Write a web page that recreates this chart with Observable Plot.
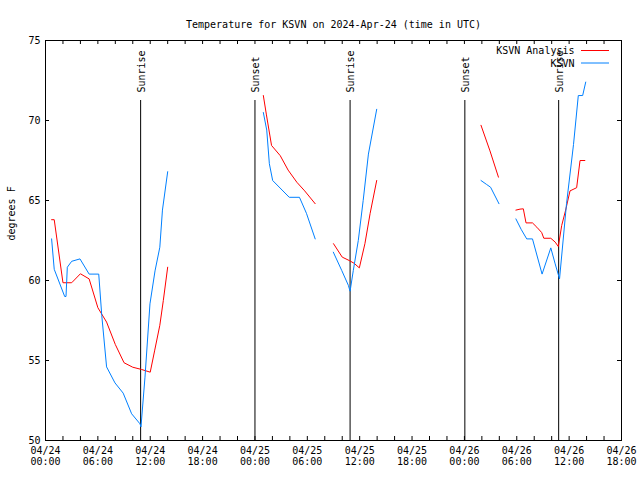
<!DOCTYPE html>
<html><head><meta charset="utf-8">
<script src="https://cdn.jsdelivr.net/npm/d3@7"></script>
<script src="https://cdn.jsdelivr.net/npm/@observablehq/plot@0.6"></script>
<style>body{margin:0;background:#fff}</style>
</head><body><div id="chart"></div>
<script>
const title = "Temperature for KSVN on 2024-Apr-24 (time in UTC)";
const yLabel = "degrees F";
const seriesNames = ["KSVN Analysis", "KSVN"];
const seriesColors = ["#ff0000", "#0080ff"];

// hours since 2024-04-24 00:00 UTC; null temperature = gap in the line
const analysisHours = [0.7,1.0,2.0,3.0,4.0,5.0,6.0,7.0,8.0,9.0,10.0,11.0,12.0,12.5,13.1,13.5,14.0, 19,
  24.96,25.3,25.9,26.9,27.8,28.8,29.7,30.9, 32,
  33.0,34.0,34.8,35.35,35.96,36.6,37.2,37.95, 44,
  49.9,50.93,51.9, 53,
  53.9,54.37,54.75,55.06,55.8,56.3,56.85,57.1,57.9,58.4,58.76,59.15,59.6,60.1,60.86,61.25,61.8];
const analysisTemps = [63.8,63.8,59.86,59.86,60.42,60.1,58.3,57.4,56.0,54.86,54.58,54.44,54.27,55.6,57.2,58.75,60.83, null,
  71.56,70.4,68.44,67.8,66.9,66.14,65.6,64.8, null,
  62.3,61.46,61.25,61.08,60.79,62.3,64.2,66.25, null,
  69.7,68.1,66.46, null,
  64.4,64.46,64.48,63.6,63.6,63.33,63.0,62.64,62.64,62.4,62.125,63.44,64.4,65.6,65.8,67.5,67.5];

const obsHours = [0.7,1.0,2.2,2.35,2.5,3.0,3.95,5.0,6.1,6.45,7.0,7.96,8.9,9.87,10.83,10.94,11.4,11.97,12.55,13.1,13.4,14.0, 19,
  24.96,25.35,25.65,26.03,27.93,29.1,29.9,30.9, 32,
  32.98,33.94,34.7,34.9,35.27,35.84,36.4,37.0,37.95, 44,
  49.9,50.55,51.0,51.96, 53,
  53.9,54.5,55.14,55.8,56.9,57.9,58.4,58.9,59.7,60.5,61.05,61.55,61.9];
const obsTemps = [62.6,60.7,59.0,59.0,60.83,61.2,61.35,60.4,60.4,57.8,54.6,53.6,52.96,51.67,51.04,50.85,53.96,58.54,60.6,62.08,64.4,66.8, null,
  70.5,69.4,67.3,66.25,65.2,65.2,64.2,62.6, null,
  61.77,60.63,59.7,59.33,60.63,62.5,65.0,67.9,70.7, null,
  66.25,66.0,65.83,64.8, null,
  63.85,63.2,62.6,62.6,60.4,62.04,61.04,60.1,64.8,68.5,71.56,71.56,72.4];

const eventHours = [10.9, 24.0, 34.9, 48.05, 58.8];
const eventLabels = ["Sunrise", "Sunset", "Sunrise", "Sunset", "Sunrise"];

const yTicks = [50, 55, 60, 65, 70, 75];
const xLabelHours = [0, 6, 12, 18, 24, 30, 36, 42, 48, 54, 60, 66];
const xMinorHours = d3.range(0, 67, 2);

const t0 = Date.UTC(2024, 3, 24);
const toDate = h => new Date(t0 + h * 3600e3);
const analysis = analysisHours.map((h, i) => ({t: toDate(h), v: analysisTemps[i]}));
const obs = obsHours.map((h, i) => ({t: toDate(h), v: obsTemps[i]}));
const events = eventHours.map((h, i) => ({t: toDate(h), label: eventLabels[i]}));

const W = 640, H = 480, mL = 45, mR = 19, mT = 40, mB = 40;
const fw = W - mL - mR, fh = H - mT - mB, tk = 4;

const legendLines = (index, scales, values, dims) => {
  const d = dims || {width: W, marginRight: mR, marginTop: mT};
  const g = d3.create("svg:g");
  seriesColors.forEach((c, i) => {
    g.append("line")
      .attr("x1", d.width - d.marginRight - 40).attr("x2", d.width - d.marginRight - 12)
      .attr("y1", d.marginTop + 10.5 + i * 12.5).attr("y2", d.marginTop + 10.5 + i * 12.5)
      .attr("stroke", c).attr("stroke-width", 1);
  });
  return g.node();
};

const chart = Plot.plot({
  width: W, height: H,
  marginLeft: mL, marginRight: mR, marginTop: mT, marginBottom: mB,
  style: {fontFamily: "'DejaVu Sans Mono', monospace", fontSize: "10px", background: "white", color: "black"},
  x: {type: "utc", domain: [toDate(0), toDate(66)]},
  y: {domain: [50, 75]},
  marks: [
    Plot.frame({stroke: "black"}),
    Plot.ruleY(yTicks, {y: d => d, insetRight: fw - tk, stroke: "black"}),
    Plot.ruleY(yTicks, {y: d => d, insetLeft: fw - tk, stroke: "black"}),
    Plot.ruleX(xMinorHours, {x: toDate, insetBottom: fh - tk, stroke: "black"}),
    Plot.ruleX(xMinorHours, {x: toDate, insetTop: fh - tk, stroke: "black"}),
    Plot.axisY(yTicks, {anchor: "left", tickSize: 0, tickPadding: 5, label: null, fontSize: 10}),
    Plot.axisX(xLabelHours.map(toDate), {anchor: "bottom", tickSize: 0, tickPadding: 5, label: null,
      tickFormat: d3.utcFormat("%m/%d\n%H:%M"), lineHeight: 1.15, fontSize: 10}),
    Plot.ruleX(events, {x: "t", insetTop: 60, stroke: "black"}),
    Plot.text(events, {x: "t", text: "label", rotate: -90, frameAnchor: "top", dx: -3, dy: 52, textAnchor: "start", fill: "black"}),
    Plot.line(analysis, {x: "t", y: "v", stroke: seriesColors[0], strokeWidth: 1}),
    Plot.line(obs, {x: "t", y: "v", stroke: seriesColors[1], strokeWidth: 1}),
    Plot.text([title], {frameAnchor: "top", dy: -20, fill: "black"}),
    Plot.text([yLabel], {frameAnchor: "left", dx: -34, rotate: -90, fill: "black"}),
    Plot.text([seriesNames.join("\n")], {frameAnchor: "top-right", dx: -47, dy: 5, textAnchor: "end", lineAnchor: "top", lineHeight: 1.25, fill: "black"}),
    legendLines
  ]
});
document.getElementById("chart").appendChild(chart);
</script>
</body></html>
